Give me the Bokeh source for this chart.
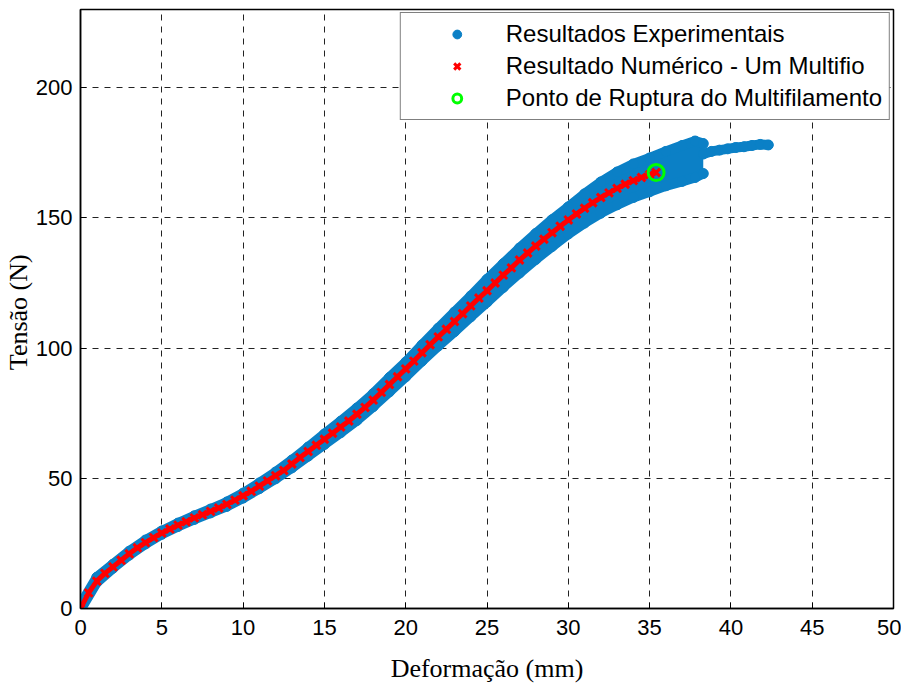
from bokeh.plotting import figure
from bokeh.models import Range1d, FixedTicker, Legend, LegendItem
from bokeh.embed import file_html
from bokeh.resources import INLINE

# Numerical model (Resultado Numérico - Um Multifio)
num_x = [0, 0.5, 1, 1.5, 2, 2.5, 3, 3.5, 4, 4.5, 5, 5.5, 6, 6.5, 7, 7.5, 8, 8.5, 9, 9.5,
         10, 10.5, 11, 11.5, 12, 12.5, 13, 13.5, 14, 14.5, 15, 15.5, 16, 16.5, 17, 17.5,
         18, 18.5, 19, 19.5, 20, 20.5, 21, 21.5, 22, 22.5, 23, 23.5, 24, 24.5, 25, 25.5,
         26, 26.5, 27, 27.5, 28, 28.5, 29, 29.5, 30, 30.5, 31, 31.5, 32, 32.5, 33, 33.5,
         34, 34.5, 35, 35.4]
num_y = [0, 6, 10.5, 13.5, 16, 18.5, 21, 23.3, 25.3, 27.2, 29, 30.5, 32, 33.3, 34.8, 36,
         37.3, 38.6, 40, 41.6, 43.3, 45, 47, 49, 51, 53, 55.5, 58, 60.3, 62.7, 65, 67.3,
         69.7, 72, 74.6, 77.2, 80, 83, 86, 89, 92, 95, 98.2, 101.3, 104.3, 107.2, 110.2,
         113.2, 116.2, 119.2, 122, 125, 128, 130.8, 133.8, 136.5, 139.2, 141.8, 144.3,
         146.8, 149.2, 151.5, 153.7, 155.8, 157.8, 159.6, 161.3, 162.9, 164.3, 165.5,
         166.6, 167.4]

# Experimental results: lower / upper envelope of the point cloud
exp_x = [0, 1, 2, 3, 4, 5, 6, 7, 8, 9, 10, 11, 12, 13, 14, 15, 16, 17, 18, 19, 20, 21,
         22, 23, 24, 25, 26, 27, 28, 29, 30, 31, 32, 33, 34, 35, 36, 37, 37.8, 38.3]
exp_lo = [-0.5, 10, 15.5, 20.5, 24.8, 28.5, 31.5, 34.2, 36.7, 39.2, 42.4, 46, 49.8, 54,
          58.5, 63, 67.5, 72.2, 77.5, 83.2, 89, 95, 100.8, 106.3, 112, 117.6, 123.3,
          128.8, 134, 139, 143.8, 148, 151.8, 155, 157.8, 160, 162.3, 164, 165.5, 167]
exp_hi = [1.5, 12, 17, 22, 26.3, 29.8, 32.8, 35.6, 38.2, 40.9, 44.3, 48.2, 52.4, 57, 62,
          67, 71.9, 77, 82.5, 88.7, 94.6, 101.2, 107.6, 113.8, 120, 126.4, 132.4, 138.4,
          144, 149.3, 154.2, 159.2, 163.8, 167.6, 170.7, 173, 175.5, 177.8, 179.5, 178.5]
# Experimental tail after rupture
tail_x = [38.3, 38.8, 39.3, 39.8, 40.3, 40.8, 41.3, 41.8, 42.3]
tail_y = [174.5, 175.5, 176, 176.5, 177, 177.3, 177.8, 178.2, 178]

# Rupture point of the multifilament
rup_x = [35.4]
rup_y = [167.4]

x_ticks = [0, 5, 10, 15, 20, 25, 30, 35, 40, 45, 50]
y_ticks = [0, 50, 100, 150, 200]

BLUE = "#0b80c6"
RED = "#ff0000"
GREEN = "#00ff00"

p = figure(frame_width=813, frame_height=599, output_backend="svg", toolbar_location=None,
           x_range=Range1d(0, 50), y_range=Range1d(0, 230),
           min_border_left=72, min_border_right=8, min_border_top=9, min_border_bottom=66)
p.background_fill_color = "white"
p.border_fill_color = "white"
p.outline_line_color = "black"
p.outline_line_width = 1.5

for ax in (p.xaxis[0], p.yaxis[0]):
    ax.axis_line_color = "black"
    ax.axis_line_width = 1.5
    ax.major_tick_in = 6
    ax.major_tick_out = 0
    ax.minor_tick_line_color = None
    ax.major_tick_line_color = "black"
    ax.major_label_text_font = "Liberation Sans"
    ax.major_label_text_font_size = "22px"
    ax.major_label_text_color = "black"
    ax.axis_label_text_font = "Liberation Serif"
    ax.axis_label_text_font_size = "26px"
    ax.axis_label_text_font_style = "normal"
    ax.axis_label_text_color = "black"

p.xaxis.ticker = FixedTicker(ticks=x_ticks)
p.yaxis.ticker = FixedTicker(ticks=y_ticks)
p.xaxis.axis_label = "Deformação (mm)"
p.yaxis.axis_label = "Tensão  (N)"
p.xaxis.major_label_standoff = 11
p.yaxis.major_label_standoff = 8
p.xaxis.axis_label_standoff = 16
p.yaxis.axis_label_standoff = 0

p.xgrid.ticker = FixedTicker(ticks=x_ticks)
p.ygrid.ticker = FixedTicker(ticks=y_ticks)
for g in (p.xgrid[0], p.ygrid[0]):
    g.grid_line_color = "#222222"
    g.grid_line_dash = "6 6"
    g.grid_line_width = 1

# Experimental cloud
p.varea(x=exp_x, y1=exp_lo, y2=exp_hi, fill_color=BLUE)
p.line(exp_x, exp_lo, line_color=BLUE, line_width=10, line_cap="round", line_join="round")
p.line(exp_x, exp_hi, line_color=BLUE, line_width=10, line_cap="round", line_join="round")
p.line(tail_x, tail_y, line_color=BLUE, line_width=10, line_cap="round", line_join="round")
exp_r = p.scatter(exp_x + exp_x + tail_x, exp_lo + exp_hi + tail_y, marker="circle",
                  size=10, fill_color=BLUE, line_color=BLUE)

# Numerical
p.line(num_x, num_y, line_color=RED, line_width=5)
num_r = p.scatter(num_x, num_y, marker="x", size=11, line_color=RED, line_width=3)

# Rupture
rup_r = p.scatter(rup_x, rup_y, marker="circle", size=16, fill_color=None,
                  line_color=GREEN, line_width=3)

legend = Legend(items=[
    LegendItem(label="Resultados Experimentais", renderers=[exp_r]),
    LegendItem(label="Resultado Numérico - Um Multifio", renderers=[num_r]),
    LegendItem(label="Ponto de Ruptura do Multifilamento", renderers=[rup_r]),
], location="top_right")
legend.margin = 3
legend.padding = 7
legend.spacing = 4
legend.glyph_width = 98
legend.glyph_height = 22
legend.label_standoff = 0
legend.label_text_font = "Liberation Sans"
legend.label_text_font_size = "24px"
legend.label_text_color = "black"
legend.label_height = 26
legend.border_line_color = "black"
legend.border_line_width = 1.5
legend.background_fill_color = "white"
legend.background_fill_alpha = 1
p.add_layout(legend)

open("out.html", "w").write(file_html(p, INLINE))
